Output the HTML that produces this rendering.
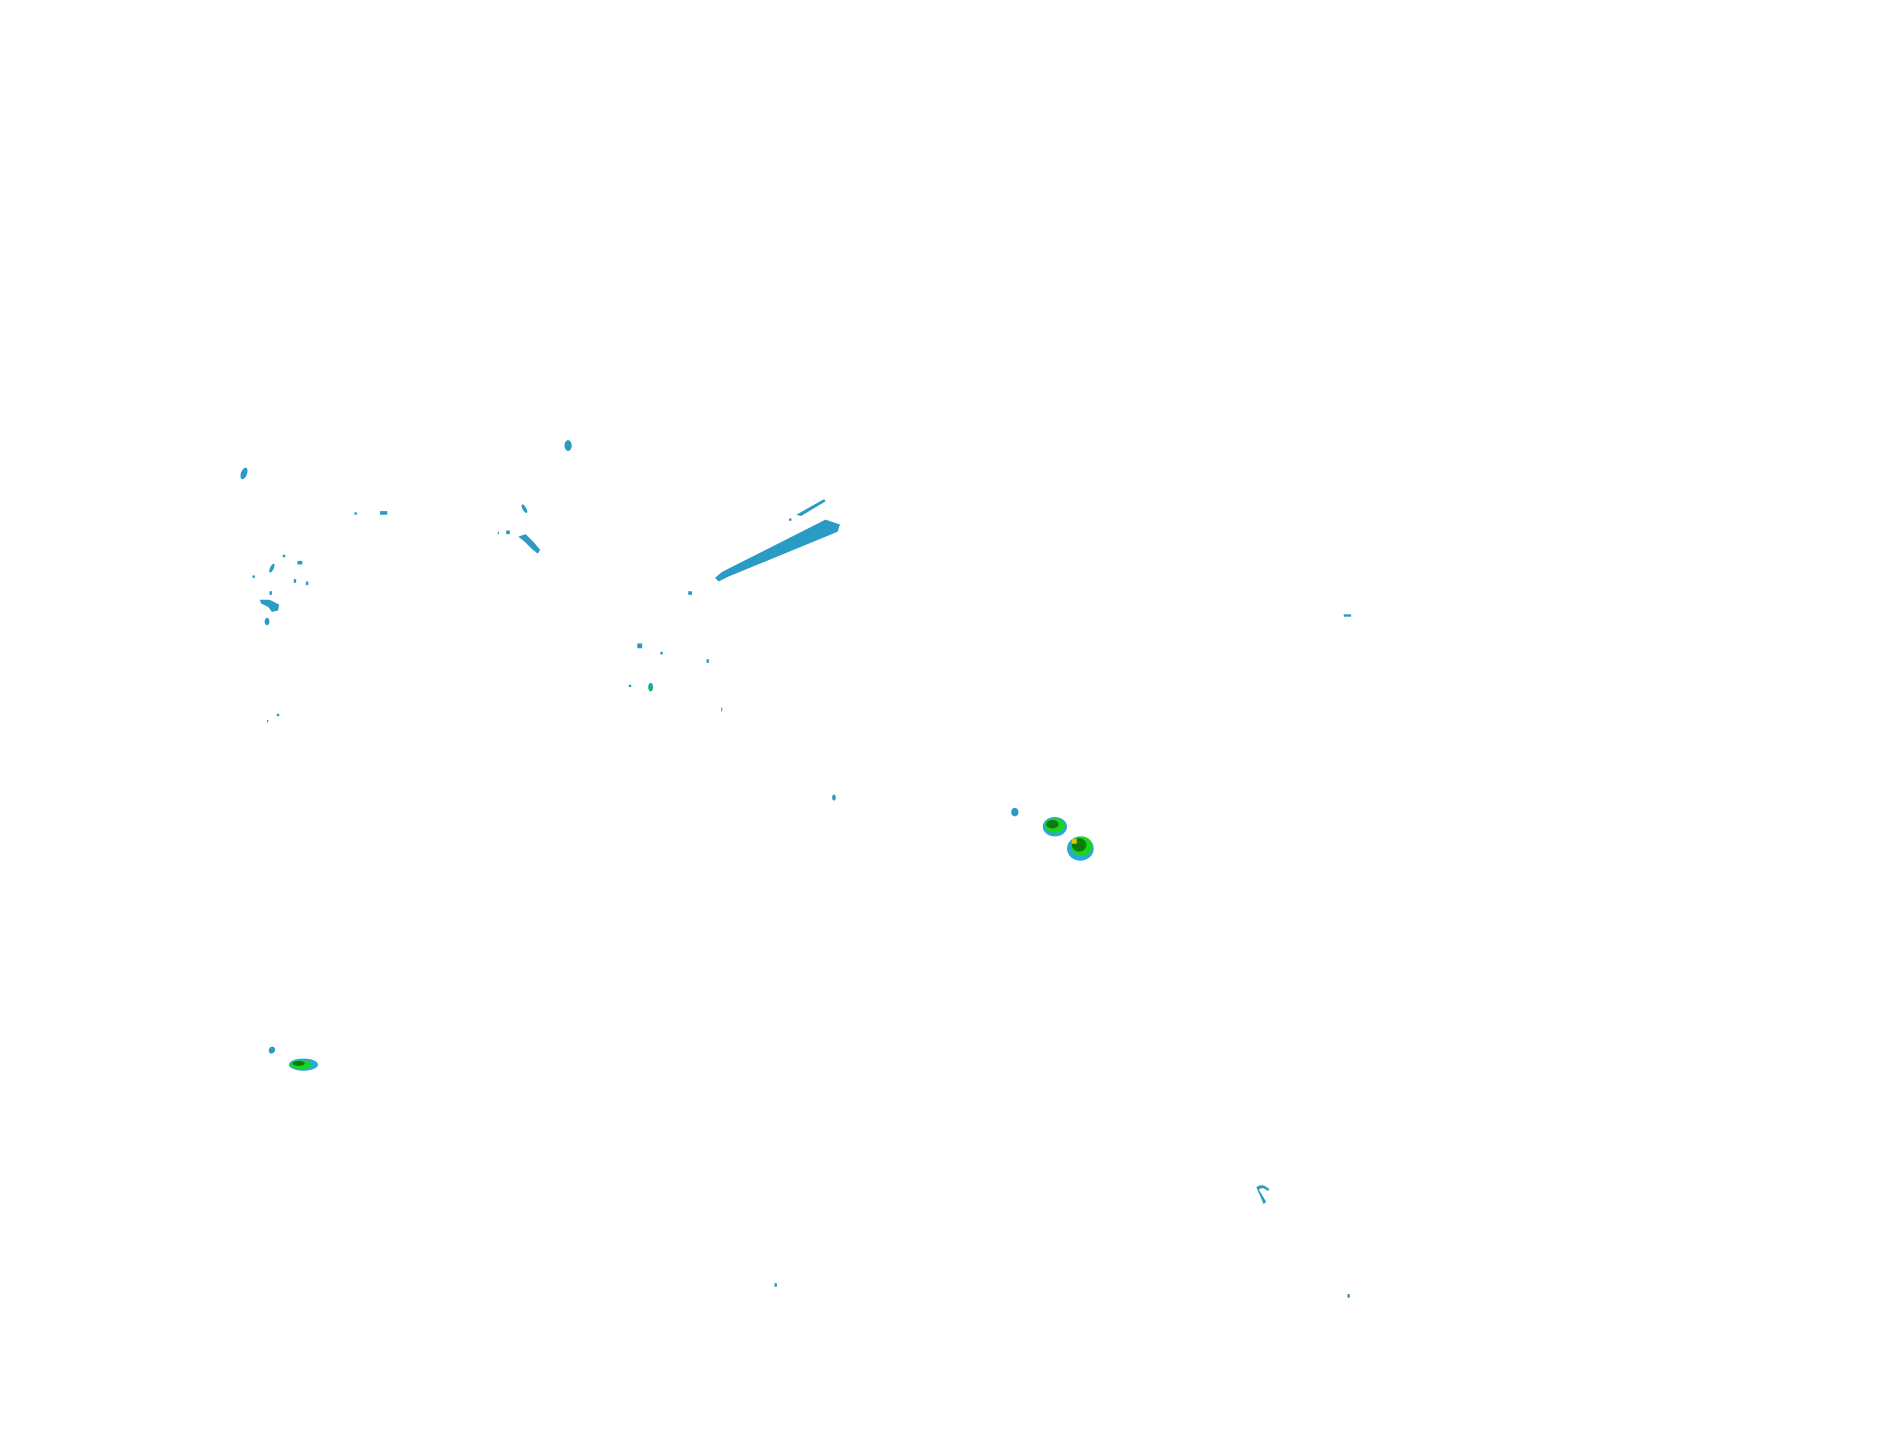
<!DOCTYPE html>
<html><head><meta charset="utf-8"><style>html,body{margin:0;padding:0;background:#fff;}svg{display:block}</style></head>
<body>
<svg width="1904" height="1441" viewBox="0 0 1568.5 1187" xmlns="http://www.w3.org/2000/svg">
<g fill="#2a9bc4">
<ellipse cx="201" cy="390" rx="2.5" ry="5" transform="rotate(20 201 390)"/>
<ellipse cx="468" cy="367" rx="3" ry="4.5"/>
<rect x="292" y="422" width="2" height="2"/>
<rect x="313" y="421" width="6" height="3"/>
<ellipse cx="432" cy="419" rx="1.5" ry="4" transform="rotate(-30 432 419)"/>
<path d="M427 442 L433 440 L440 447 L445 453 L443 456 L438 452 L432 446 Z"/>
<rect x="417" y="437" width="3" height="3"/><rect x="410" y="438" width="1" height="2"/>
<ellipse cx="224" cy="468" rx="1.5" ry="4" transform="rotate(25 224 468)"/>
<rect x="233" y="457" width="2" height="2"/>
<rect x="245" y="462" width="4" height="3"/>
<rect x="208" y="474" width="2" height="2"/>
<rect x="242" y="477" width="2" height="3"/><rect x="252" y="479" width="2" height="3"/>
<rect x="222" y="487" width="2" height="3"/>
<path d="M214 494 L222 494 L226 496 L230 498 L229 503 L224 504 L221 500 L215 497 Z"/>
<ellipse cx="220" cy="512" rx="2" ry="3"/>
<path d="M680 428 L692 432 L690 438 L600 475 L592 479 L589 476 L595 471 Z"/>
<path d="M656 424 L679 411 L680 413 L660 425 Z"/>
<rect x="650" y="427" width="2" height="2"/>
<rect x="567" y="487" width="3" height="3"/>
<rect x="525" y="530" width="4" height="4"/>
<rect x="544" y="537" width="2" height="2"/>
<rect x="582" y="543" width="2" height="3"/>
<rect x="518" y="564" width="2" height="2"/>
<rect x="228" y="588" width="2" height="2"/><rect x="220" y="593" width="1" height="2"/>
<ellipse cx="687" cy="657" rx="1.5" ry="2.5"/>
<ellipse cx="836" cy="669" rx="3" ry="3.5"/>
<rect x="1107" y="506" width="6" height="2"/>
<ellipse cx="224" cy="865" rx="2.5" ry="3" transform="rotate(30 224 865)"/>
<rect x="638" y="1057" width="2" height="3"/>
<rect x="1110" y="1066" width="2" height="3"/>
</g>
<path d="M1035 978 Q1040 974 1046 980 L1044 981 Q1040 977 1037 980 L1043 990 L1041 992 Z" fill="#2a9bc4"/>
<ellipse cx="536" cy="566" rx="2" ry="3.5" fill="#2a9bc4"/>
<ellipse cx="536" cy="567" rx="1.5" ry="2.5" fill="#10c030"/>
<rect x="594" y="583" width="1" height="3" fill="#20d040"/>
<g>
<ellipse cx="869" cy="681" rx="10" ry="8" fill="#2aa8d8"/>
<ellipse cx="869" cy="680" rx="8" ry="6" fill="#1cd41c"/>
<ellipse cx="867" cy="679" rx="5" ry="3.5" fill="#0c7a0c"/>
<ellipse cx="890" cy="699" rx="11" ry="10" fill="#2aa8d8"/>
<ellipse cx="891" cy="697" rx="9" ry="8" fill="#1cd41c"/>
<ellipse cx="889" cy="696" rx="6" ry="5.5" fill="#0c7a0c"/>
<rect x="883" y="691" width="4" height="4" fill="#e8c800"/>
<ellipse cx="250" cy="877" rx="12" ry="5" fill="#2aa8d8"/>
<ellipse cx="248" cy="877" rx="9" ry="3.5" fill="#1cd41c"/>
<ellipse cx="246" cy="876" rx="5" ry="2" fill="#0c7a0c"/>
</g>
</svg>
</body></html>
